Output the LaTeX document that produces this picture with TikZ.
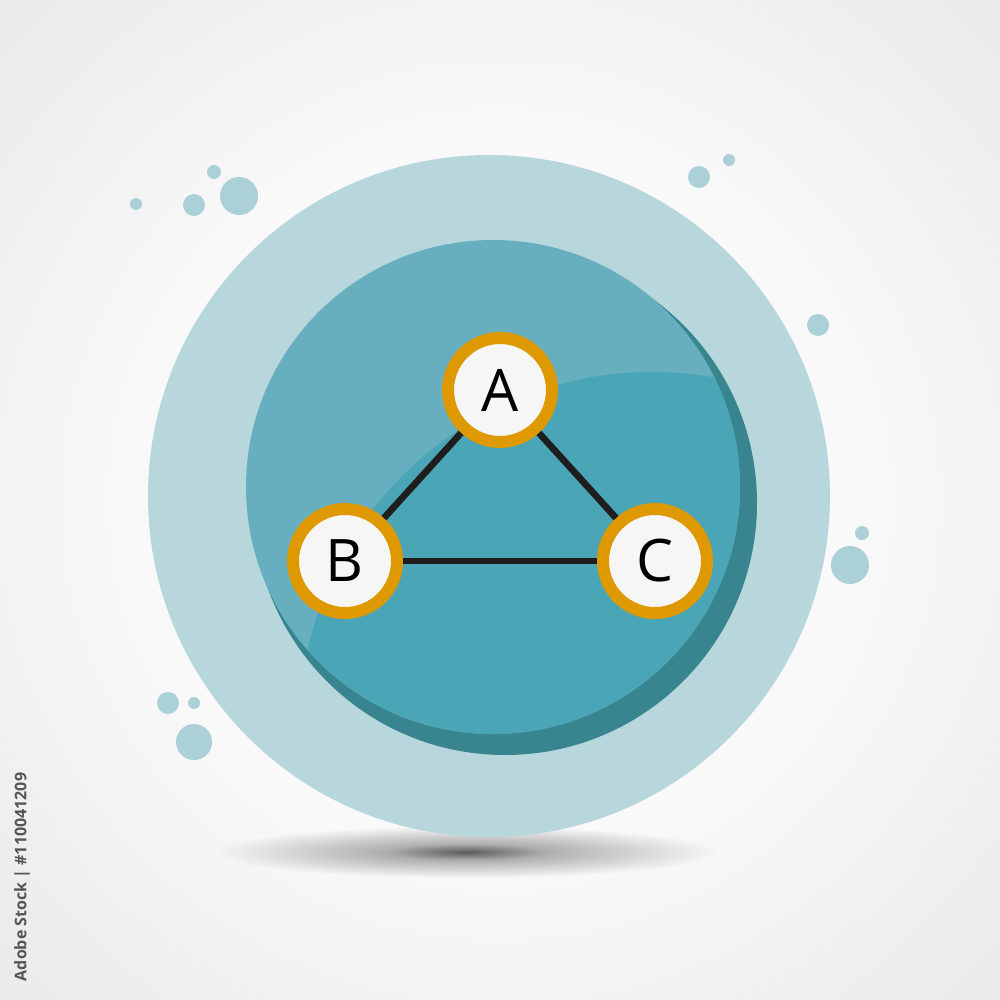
\documentclass[tikz,border=0pt]{standalone}
\usepackage{fontspec}
\setmainfont{Open Sans}
\usetikzlibrary{fadings}

\definecolor{bgIn}{RGB}{249,249,250}
\definecolor{bgOut}{RGB}{210,210,213}
\definecolor{ringBlue}{RGB}{183,215,221}
\definecolor{bubbleBlue}{RGB}{172,208,215}
\definecolor{discLight}{RGB}{103,175,191}
\definecolor{discMain}{RGB}{74,165,183}
\definecolor{discShadow}{RGB}{57,133,143}
\definecolor{ringOrange}{RGB}{222,152,0}
\definecolor{nodeWhite}{RGB}{246,246,246}
\definecolor{edgeDark}{RGB}{30,30,30}
\definecolor{stampGray}{RGB}{85,85,88}

\pgfdeclareradialshading{backglow}{\pgfpointorigin}{color(0bp)=(bgIn); color(18bp)=(bgIn); color(62bp)=(bgOut); color(80bp)=(bgOut)}
\pgfdeclareradialshading{floorshade}{\pgfpointorigin}{color(0bp)=(pgftransparent!15); color(8bp)=(pgftransparent!60); color(25bp)=(pgftransparent!100); color(50bp)=(pgftransparent!100)}
\pgfdeclarefading{floorfade}{\pgfuseshading{floorshade}}

\tikzset{
	letter node/.style={circle, draw=ringOrange, fill=nodeWhite, line width=9pt, minimum size=78pt, inner sep=0pt, font=\fontsize{44}{48}\selectfont},
	graph edge/.style={draw=edgeDark, line width=5pt},
	bubble/.style={fill=bubbleBlue}}
\tikzset{every picture/.style={line width=0.75pt}}

\begin{document}
\begin{tikzpicture}[x=0.75pt,y=0.75pt,yscale=-1,xscale=1]
	\useasboundingbox (0,0) rectangle (1000,1000);

	%Shape: Background
	\shade[shading=backglow] (0,0) rectangle (1000,1000);
	%Shape: Floor shadow
	\fill[black!75, path fading=floorfade] (466,852) ellipse (250 and 26);

	%Shape: Circle
	\fill[ringBlue] (489,496) circle (341);
	%Shape: Circle
	\fill[discShadow] (505,503) circle (252);
	%Shape: Circle
	\fill[discLight] (493,487) circle (247);
	%Shape: Circle
	\begin{scope}
		\clip (493,487) circle (247);
		\fill[discMain] (652,724) circle (352);
	\end{scope}

	% Text Node
	\node[letter node] (nodeA) at (500,390) {A};
	% Text Node
	\node[letter node] (nodeB) at (345,561) {B};
	% Text Node
	\node[letter node] (nodeC) at (655,561) {C};
	%Straight Lines
	\draw[graph edge] (nodeA) -- (nodeB);
	\draw[graph edge] (nodeA) -- (nodeC);
	\draw[graph edge] (nodeB) -- (nodeC);

	%Shape: Bubbles
	\fill[bubble] (136,204) circle (6);
	\fill[bubble] (194,205) circle (11);
	\fill[bubble] (214,172) circle (7);
	\fill[bubble] (239,196) circle (19);
	\fill[bubble] (699,177) circle (11);
	\fill[bubble] (729,160) circle (6);
	\fill[bubble] (818,325) circle (11);
	\fill[bubble] (862,533) circle (7);
	\fill[bubble] (850,565) circle (19);
	\fill[bubble] (168,703) circle (11);
	\fill[bubble] (194,703) circle (6);
	\fill[bubble] (194,742) circle (18);

	% Text Node
	\node[rotate=90, text=stampGray, font=\bfseries\fontsize{12}{14}\selectfont] (stamp) at (22,877) {Adobe Stock | \#110041209};
\end{tikzpicture}
\end{document}
